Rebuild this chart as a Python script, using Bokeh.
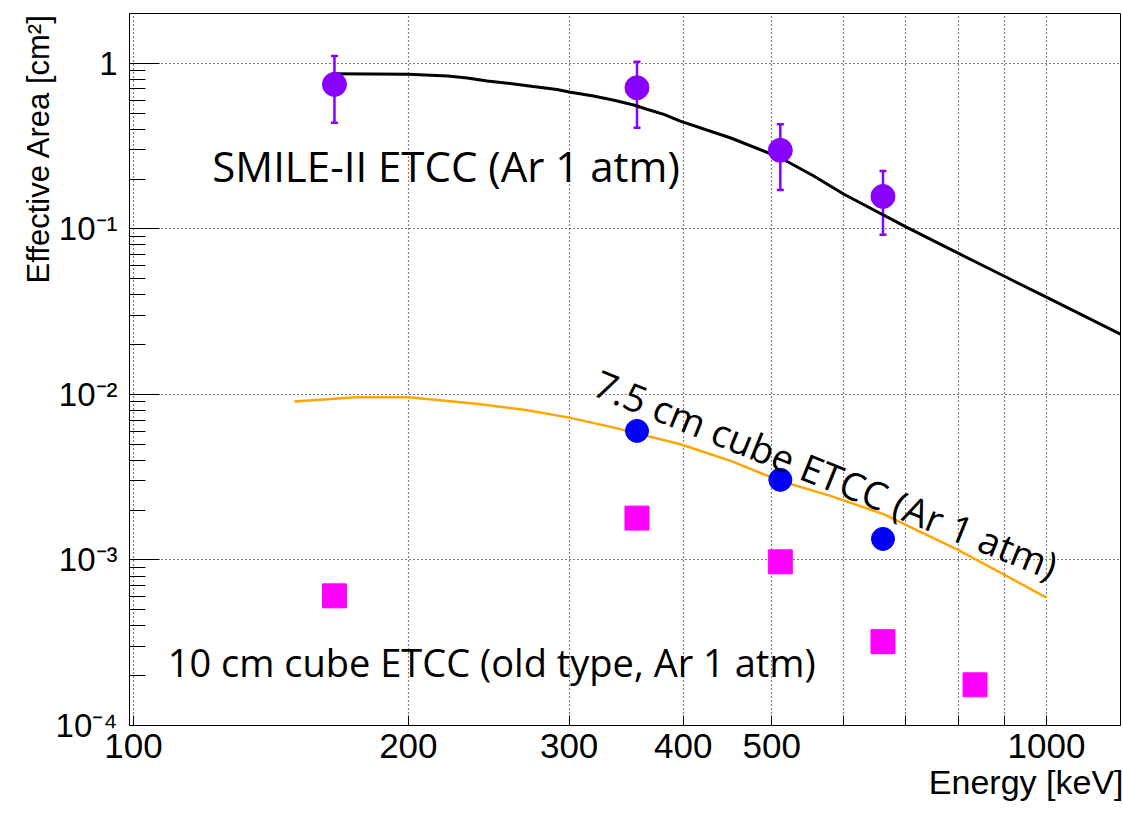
import math

from bokeh.embed import file_html
from bokeh.models import (ColumnDataSource, CustomJSTickFormatter, FixedTicker, Label,
                          Range1d, TeeHead, Title, Whisker)
from bokeh.plotting import figure
from bokeh.resources import INLINE

# ---------------------------------------------------------------- data
# SMILE-II ETCC, measured effective area (cm^2) with error range
smile_energy = [166, 356, 511, 662]
smile_area = [0.746, 0.712, 0.298, 0.157]
smile_upper = [1.107, 1.023, 0.428, 0.224]
smile_lower = [0.438, 0.408, 0.172, 0.092]

# SMILE-II ETCC, simulated effective area
smile_sim_energy = [165, 182, 200, 221, 232, 244, 261, 274, 291, 300, 319, 336, 353,
                    365, 381, 397, 451, 511, 556, 600, 704, 798, 898, 1002, 1205]
smile_sim_area = [0.865, 0.862, 0.858, 0.838, 0.815, 0.782, 0.750, 0.724, 0.695,
                  0.671, 0.635, 0.598, 0.560, 0.528, 0.492, 0.448, 0.354, 0.269,
                  0.2087, 0.1618, 0.1017, 0.0718, 0.0519, 0.0384, 0.0231]

# 7.5 cm cube ETCC, measured
cube75_energy = [356, 511, 662]
cube75_area = [0.00602, 0.00305, 0.00134]

# 7.5 cm cube ETCC, simulated
cube75_sim_energy = [150, 160, 175, 200, 224, 240, 270, 300, 336, 397, 451, 511, 580,
                     663, 716, 798, 1000]
cube75_sim_area = [0.00905, 0.0093, 0.0096, 0.0096, 0.00905, 0.00873, 0.00803, 0.00724,
                   0.0063, 0.0050, 0.00397, 0.00300, 0.00244, 0.00189, 0.00154,
                   0.00116, 0.000593]

# 10 cm cube ETCC (old type), measured
cube10_energy = [166, 356, 511, 662, 835]
cube10_area = [0.000607, 0.00179, 0.000974, 0.000321, 0.000176]

# axes
x_ticks = [100, 200, 300, 400, 500, 600, 700, 800, 900, 1000]
x_tick_labels = ["100", "200", "300", "400", "500", "", "", "", "", "1000"]
y_ticks = [1e-4, 1e-3, 1e-2, 1e-1, 1]
y_tick_labels = ["10⁻⁴", "10⁻³", "10⁻²", "10⁻¹", "1"]
x_lo, x_hi = 99, 1205
y_lo, y_hi = 1e-4, 2

# ---------------------------------------------------------------- styling
AXIS_FONT = "Liberation Sans"
NOTE_FONT = "Open Sans"
PURPLE = "#8800ff"
BLUE = "#0000ff"
MAGENTA = "#ff00ff"
ORANGE = "#ffa500"

p = figure(width=1123, height=814, title=None,
           x_axis_type="log", y_axis_type="log",
           x_range=Range1d(x_lo, x_hi), y_range=Range1d(y_lo, y_hi),
           output_backend="svg", toolbar_location=None,
           min_border_left=129, min_border_right=3,
           min_border_top=13, min_border_bottom=89)

p.background_fill_color = "white"
p.border_fill_color = "white"
p.outline_line_color = "black"
p.outline_line_width = 1

# x axis
p.xaxis.ticker = FixedTicker(ticks=x_ticks, minor_ticks=[])
p.xaxis.formatter = CustomJSTickFormatter(code="return ''")
p.xaxis.major_label_overrides = dict(zip(x_ticks, x_tick_labels))
p.xaxis.major_label_text_font = AXIS_FONT
p.xaxis.major_label_text_font_size = "35px"
p.xaxis.major_label_text_color = "black"
p.xaxis.major_label_standoff = 8
p.xaxis.major_tick_in = 10
p.xaxis.major_tick_out = 0
p.xaxis.minor_tick_line_color = None
p.xaxis.axis_line_color = "black"
p.xaxis.major_tick_line_color = "black"

# y axis
y_minor = [k * 10.0 ** e for e in range(-4, 0) for k in range(2, 10)] + [2.0]
p.yaxis.ticker = FixedTicker(ticks=y_ticks, minor_ticks=y_minor)
p.yaxis.formatter = CustomJSTickFormatter(code="return ''")
p.yaxis.major_label_overrides = dict(zip(y_ticks, y_tick_labels))
p.yaxis.major_label_text_font = AXIS_FONT
p.yaxis.major_label_text_font_size = "33px"
p.yaxis.major_label_text_color = "black"
p.yaxis.major_label_standoff = 12
p.yaxis.major_tick_in = 30
p.yaxis.major_tick_out = 0
p.yaxis.minor_tick_in = 16
p.yaxis.minor_tick_out = 0
p.yaxis.axis_line_color = "black"
p.yaxis.major_tick_line_color = "black"
p.yaxis.minor_tick_line_color = "black"

for g in (p.xgrid, p.ygrid):
    g.grid_line_color = "black"
    g.grid_line_dash = "1 3"
    g.grid_line_width = 1.2

# axis titles, right-aligned at the far end of each axis
p.add_layout(Title(text="Effective Area [cm²]", align="right", standoff=-6,
                   text_font=AXIS_FONT, text_font_size="31px",
                   text_font_style="normal", text_color="black"), "left")
p.add_layout(Title(text="Energy [keV]", align="right", standoff=0, offset=-3,
                   text_font=AXIS_FONT, text_font_size="34px",
                   text_font_style="normal", text_color="black"), "below")

# ---------------------------------------------------------------- curves
p.line(smile_sim_energy, smile_sim_area, line_color="black", line_width=3)
p.line(cube75_sim_energy, cube75_sim_area, line_color=ORANGE, line_width=2.5)

# ---------------------------------------------------------------- points
err_src = ColumnDataSource(dict(x=smile_energy, upper=smile_upper, lower=smile_lower))
p.add_layout(Whisker(source=err_src, base="x", upper="upper", lower="lower",
                     dimension="height", line_color=PURPLE, line_width=2.5,
                     upper_head=TeeHead(size=7, line_color=PURPLE, line_width=2.5),
                     lower_head=TeeHead(size=7, line_color=PURPLE, line_width=2.5)))
p.scatter(smile_energy, smile_area, marker="circle", size=24,
          fill_color=PURPLE, line_color=PURPLE)
p.scatter(cube75_energy, cube75_area, marker="circle", size=23,
          fill_color=BLUE, line_color=BLUE)
p.scatter(cube10_energy, cube10_area, marker="square", size=24,
          fill_color=MAGENTA, line_color=MAGENTA)

# ---------------------------------------------------------------- annotations
p.add_layout(Label(x=122, y=0.240, text="SMILE-II ETCC (Ar 1 atm)",
                   text_font=NOTE_FONT, text_font_size="42px", text_color="black",
                   text_align="left", text_baseline="middle"))
p.add_layout(Label(x=109, y=0.000243, text="10 cm cube ETCC (old type, Ar 1 atm)",
                   text_font=NOTE_FONT, text_font_size="38px", text_color="black",
                   text_align="left", text_baseline="middle"))
p.add_layout(Label(x=321.5, y=0.01207, text="7.5 cm cube ETCC (Ar 1 atm)",
                   angle=-math.radians(22.0),
                   text_font=NOTE_FONT, text_font_size="38px", text_color="black",
                   text_align="left", text_baseline="middle"))

open("out.html", "w").write(file_html(p, INLINE))
